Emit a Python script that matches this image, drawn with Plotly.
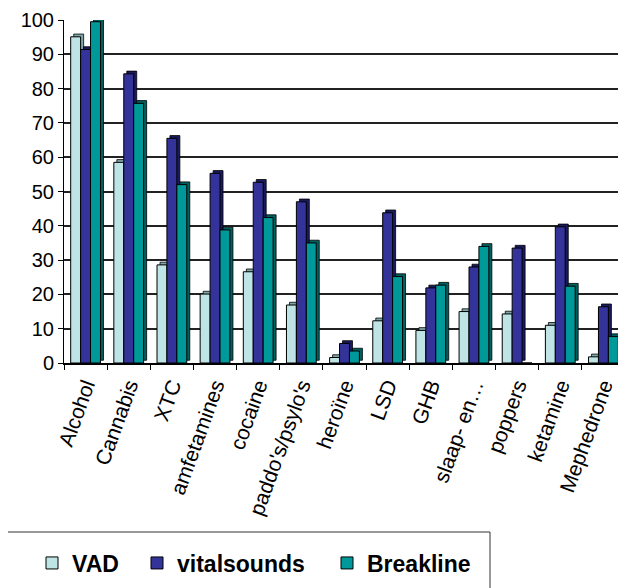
import plotly.graph_objects as go

categories = ["Alcohol", "Cannabis", "XTC", "amfetamines", "cocaine", "paddo's/psylo's",
              "heroïne", "LSD", "GHB", "slaap- en…", "poppers", "ketamine", "Mephedrone"]
vad = [95.1, 58.5, 28.6, 20.1, 26.6, 16.9, 1.6, 12.3, 9.5, 15.0, 14.3, 11.0, 1.8]
vitalsounds = [91.4, 84.3, 65.5, 55.3, 52.7, 47.0, 5.7, 43.8, 21.9, 28.0, 33.5, 39.7, 16.4]
breakline = [99.5, 75.7, 52.0, 38.8, 42.4, 35.0, 3.5, 25.2, 22.7, 34.0, 0.0, 22.4, 7.7]
y_ticks = [0, 10, 20, 30, 40, 50, 60, 70, 80, 90, 100]

series = [
    ("VAD", vad, "#BFE4E6", "#7FA8AA", -0.345),
    ("vitalsounds", vitalsounds, "#333399", "#1A1A5E", -0.115),
    ("Breakline", breakline, "#009999", "#005F5F", 0.115),
]

W = 0.23
SHIFT = 0.07
UP = 0.8
FONT = "Liberation Sans, Arial, sans-serif"

# page is shown with an 8px body margin; positions below are in page pixels
PAGE_OFF = 8
FIG_W, FIG_H = 618, 580
L, T, R = 64 - PAGE_OFF, 20 - PAGE_OFF, 1
B = FIG_H - (363 - PAGE_OFF)
PLOT_W = FIG_W - L - R
PLOT_H = FIG_H - T - B

def px2paperx(px):
    return (px - PAGE_OFF - L) / PLOT_W

def py2papery(py):
    return (FIG_H - B - (py - PAGE_OFF)) / PLOT_H

fig = go.Figure()
legend_names = ["legend", "legend2", "legend3"]
for i, (name, vals, col, dark, off) in enumerate(series):
    # depth (side/top face)
    fig.add_trace(go.Bar(
        x=categories, y=[v if v > 0 else None for v in vals], base=UP,
        offset=off + SHIFT, width=W,
        marker=dict(color=dark, line=dict(color="#000000", width=0.8)),
        showlegend=False, hoverinfo="skip"))
    # front face
    fig.add_trace(go.Bar(
        x=categories, y=vals, name=name, offset=off, width=W,
        marker=dict(color=col, line=dict(color="#000000", width=1)),
        legend=legend_names[i]))

legend_common = dict(orientation="h", yanchor="middle", xanchor="left",
                     font=dict(family=FONT, size=23, color="#000000", weight="bold"),
                     bgcolor="rgba(0,0,0,0)", borderwidth=0, itemwidth=30)

fig.update_layout(
    width=FIG_W, height=FIG_H,
    margin=dict(l=L, r=R, t=T, b=B),
    barmode="overlay",
    paper_bgcolor="white", plot_bgcolor="white",
    font=dict(family=FONT, size=20, color="#000000"),
    xaxis=dict(
        type="category", tickangle=-70, tickfont=dict(size=21, family=FONT),
        ticks="outside", ticklen=5, tickcolor="#000000", tickson="boundaries",
        showline=True, linecolor="#000000", linewidth=2, showgrid=False,
        range=[-0.5, 12.5], automargin=False),
    yaxis=dict(
        range=[0, 100], tickvals=y_ticks, tickfont=dict(size=20, family=FONT),
        ticks="outside", ticklen=5, tickcolor="#000000", ticksuffix="\u00a0",
        showline=True, linecolor="#000000", linewidth=1, automargin=False,
        showgrid=True, gridcolor="#222222", gridwidth=1.5, zeroline=False),
    legend=dict(x=px2paperx(32), y=py2papery(563), **legend_common),
    legend2=dict(x=px2paperx(137), y=py2papery(563), **legend_common),
    legend3=dict(x=px2paperx(327), y=py2papery(563), **legend_common),
    shapes=[dict(type="rect", xref="paper", yref="paper",
                 x0=px2paperx(5), x1=px2paperx(490),
                 y0=py2papery(600), y1=py2papery(532),
                 line=dict(color="#333333", width=1), fillcolor="rgba(0,0,0,0)")],
)

fig.write_html("out.html")
